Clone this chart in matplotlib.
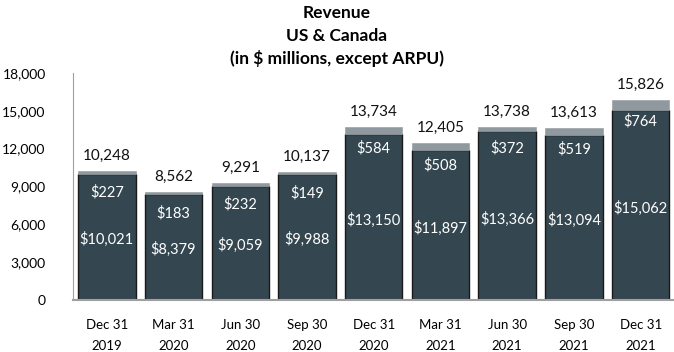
import matplotlib.pyplot as plt
import numpy as np

plt.rcParams["font.family"] = ["Lato", "DejaVu Sans"]

QUARTERS = ["Dec 31\n2019", "Mar 31\n2020", "Jun 30\n2020", "Sep 30\n2020", "Dec 31\n2020",
            "Mar 31\n2021", "Jun 30\n2021", "Sep 30\n2021", "Dec 31\n2021"]
STREAMING = [10021, 8379, 9059, 9988, 13150, 11897, 13366, 13094, 15062]
OTHER = [227, 183, 232, 149, 584, 508, 372, 519, 764]
TOTAL = [10248, 8562, 9291, 10137, 13734, 12405, 13738, 13613, 15826]
YTICKS = [0, 3000, 6000, 9000, 12000, 15000, 18000]

DARK = "#34464f"
GRAY = "#8f999f"

fig = plt.figure(figsize=(6.74, 3.52), dpi=100)
ax = fig.add_axes([0.109, 0.148, 0.891, 0.645])

x = np.arange(len(QUARTERS))
width = 0.86
ax.bar(x, STREAMING, width, color=DARK, edgecolor="#1a1a1a", linewidth=1.0)
ax.bar(x, OTHER, width, bottom=STREAMING, color=GRAY, edgecolor="#9aa3a8", linewidth=0.5)

for xi, s, o, t in zip(x, STREAMING, OTHER, TOTAL):
    ax.text(xi, t + 650, f"{t:,}", ha="center", va="bottom", fontsize=11, color="#111111")
    ax.text(xi, t - 1700, f"${o:,}", ha="center", va="center", fontsize=10.5, color="white")
    ax.text(xi, s * 0.48, f"${s:,}", ha="center", va="center", fontsize=10.5, color="white")

ax.set_xlim(-0.5, 8.5)
ax.set_ylim(0, 18000)
ax.set_yticks(YTICKS)
ax.set_yticklabels([f"{v:,}" for v in YTICKS], fontsize=10)
ax.set_xticks(x)
ax.set_xticklabels(QUARTERS, fontsize=9.5, linespacing=1.9)
ax.tick_params(axis="y", length=0, pad=20)
ax.tick_params(axis="x", length=0, pad=14)

for side in ["top", "right"]:
    ax.spines[side].set_visible(False)
ax.spines["left"].set_color("#a0a0a0")
ax.spines["bottom"].set_color("#a0a0a0")
ax.spines["bottom"].set_linewidth(1.5)

fig.text(0.5, 0.962, "Revenue", ha="center", va="center", fontsize=12.5, fontweight="bold")
fig.text(0.5, 0.898, "US & Canada", ha="center", va="center", fontsize=12.5, fontweight="bold")
fig.text(0.5, 0.834, "(in $ millions, except ARPU)", ha="center", va="center", fontsize=12.5, fontweight="bold")

fig.savefig("out.png", dpi=100)
